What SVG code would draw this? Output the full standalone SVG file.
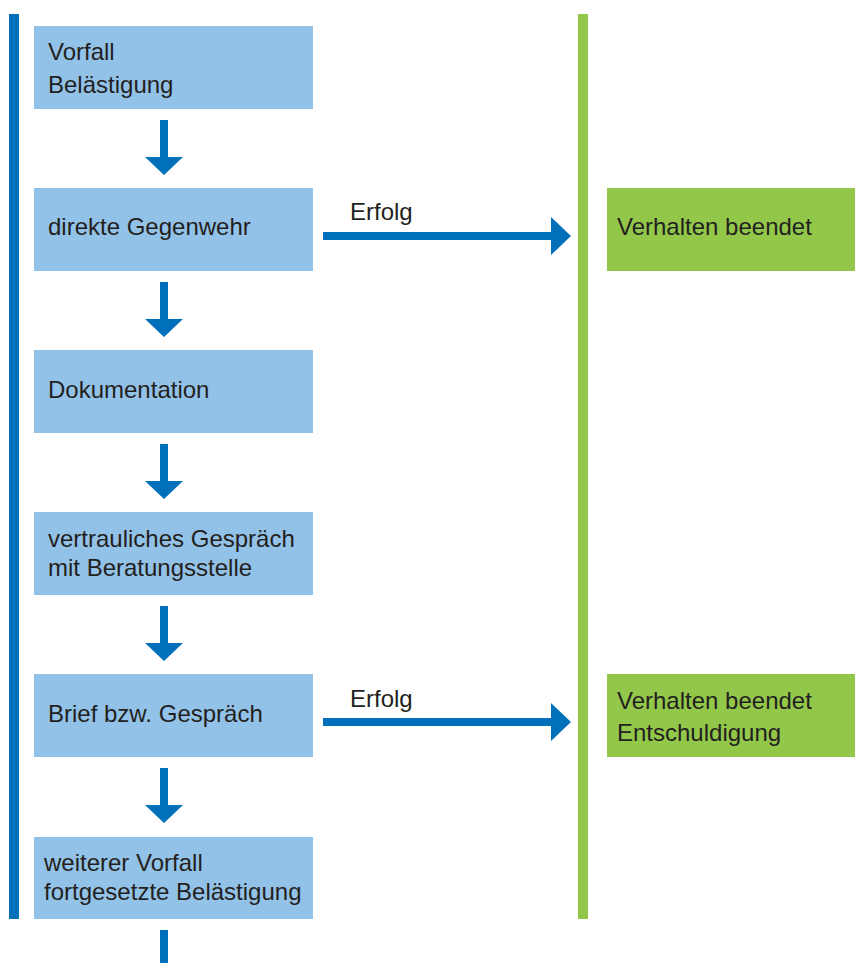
<svg xmlns="http://www.w3.org/2000/svg" width="855" height="963" viewBox="0 0 855 963">
  <defs>
    <style>
      .box { fill: #93C2E8; }
      .ok { fill: #92C74A; }
      .t { font-family: "Liberation Sans", Arial, sans-serif; font-size: 24px; fill: #231F20; }
      .con { fill: #0070BA; }
    </style>
  </defs>
  <rect x="0" y="0" width="855" height="963" fill="#FFFFFF"/>
  <g id="lanes">
    <rect id="lane-left" x="9" y="14" width="10" height="905" fill="#0070BA"/>
    <rect id="lane-right" x="578" y="14" width="10" height="905" fill="#92C74A"/>
  </g>
  <g id="n1"><rect class="box" x="34" y="26" width="279" height="83"/><text class="t" x="48" y="60">Vorfall</text><text class="t" x="48" y="92.5">Belästigung</text></g>
  <g id="n2"><rect class="box" x="34" y="188" width="279" height="83"/><text class="t" x="48" y="235">direkte Gegenwehr</text></g>
  <g id="n3"><rect class="box" x="34" y="350" width="279" height="83"/><text class="t" x="48" y="398">Dokumentation</text></g>
  <g id="n4"><rect class="box" x="34" y="512" width="279" height="83"/><text class="t" x="48" y="546.5">vertrauliches Gespräch</text><text class="t" x="48" y="575.5">mit Beratungsstelle</text></g>
  <g id="n5"><rect class="box" x="34" y="674" width="279" height="83"/><text class="t" x="48" y="721.5">Brief bzw. Gespräch</text></g>
  <g id="n6"><rect class="box" x="34" y="837" width="279" height="82"/><text class="t" x="44" y="871">weiterer Vorfall</text><text class="t" x="44" y="899.5">fortgesetzte Belästigung</text></g>
  <g id="r1"><rect class="ok" x="607" y="188" width="248" height="83"/><text class="t" x="617" y="235">Verhalten beendet</text></g>
  <g id="r2"><rect class="ok" x="607" y="674" width="248" height="83"/><text class="t" x="617" y="708.5">Verhalten beendet</text><text class="t" x="617" y="741">Entschuldigung</text></g>
  <g id="connectors">
    <polygon class="con" points="160,120 168,120 168,157 183,157 164,175 145,157 160,157"/>
    <polygon class="con" points="160,282 168,282 168,319 183,319 164,337 145,319 160,319"/>
    <polygon class="con" points="160,444 168,444 168,481 183,481 164,499 145,481 160,481"/>
    <polygon class="con" points="160,606 168,606 168,643 183,643 164,661 145,643 160,643"/>
    <polygon class="con" points="160,768 168,768 168,805 183,805 164,823 145,805 160,805"/>
    <rect class="con" x="160" y="930" width="8" height="33"/>
    <polygon class="con" points="323,232 551,232 551,217 571,236 551,255 551,240 323,240"/>
    <polygon class="con" points="323,718 551,718 551,703 571,722 551,741 551,726 323,726"/>
    <text class="t" x="350" y="219.5">Erfolg</text>
    <text class="t" x="350" y="706.5">Erfolg</text>
  </g>
</svg>
